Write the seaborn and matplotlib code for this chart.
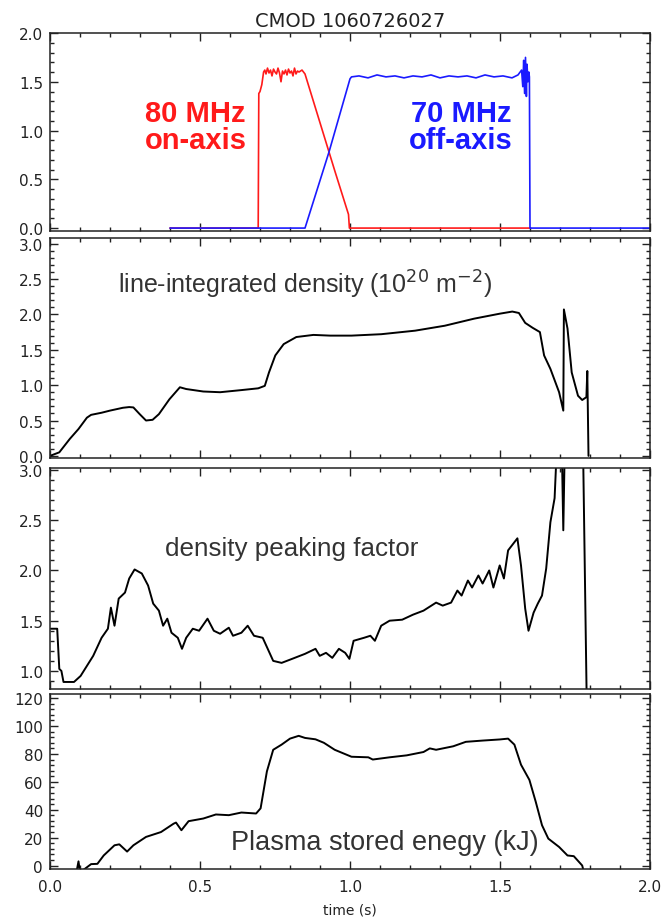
#!/usr/bin/env python3
# -*- coding: utf-8 -*-
"""
CMOD shot 1060726027: ICRF power, line-integrated density,
density peaking factor and plasma stored energy vs time.
"""
import numpy as np
import pandas as pd
import seaborn as sns
import matplotlib.pyplot as plt
from matplotlib.ticker import MultipleLocator

# ============================================================
# DATA
# ============================================================
# 80 MHz on-axis RF power (MW)
t_80 = [0.40, 0.694, 0.696, 0.700, 0.706, 0.712, 0.716, 0.720, 0.725, 0.730,
        0.735, 0.740, 0.745, 0.750, 0.755, 0.760, 0.765, 0.770, 0.775, 0.780,
        0.785, 0.790, 0.795, 0.800, 0.805, 0.810, 0.815, 0.820, 0.825, 0.830,
        0.840, 0.850, 0.900, 0.950, 0.995, 0.998, 1.60]
p_80 = [0.0, 0.0, 1.38, 1.40, 1.47, 1.60, 1.62, 1.58, 1.64, 1.59,
        1.62, 1.56, 1.63, 1.60, 1.58, 1.64, 1.59, 1.50, 1.61, 1.58,
        1.62, 1.57, 1.63, 1.59, 1.61, 1.56, 1.64, 1.58, 1.61, 1.60,
        1.62, 1.58, 1.08, 0.58, 0.14, 0.0, 0.0]

# 70 MHz off-axis RF power (MW)
t_70 = [0.40, 0.850, 0.930, 1.000, 1.005, 1.03, 1.06, 1.09, 1.12, 1.15,
        1.18, 1.21, 1.24, 1.27, 1.30, 1.33, 1.36, 1.39, 1.42, 1.45,
        1.48, 1.51, 1.54, 1.56, 1.572, 1.576, 1.579, 1.582, 1.585, 1.588,
        1.590, 1.593, 1.596, 1.598, 1.600, 2.00]
p_70 = [0.0, 0.0, 0.78, 1.53, 1.55, 1.56, 1.54, 1.57, 1.55, 1.56,
        1.54, 1.56, 1.55, 1.57, 1.54, 1.56, 1.55, 1.56, 1.54, 1.57,
        1.55, 1.56, 1.54, 1.57, 1.62, 1.45, 1.72, 1.38, 1.75, 1.35,
        1.68, 1.50, 1.60, 1.55, 0.0, 0.0]

# line-integrated density (1e20 m^-2)
t_nl = [0.000, 0.031, 0.066, 0.095, 0.123, 0.137, 0.172, 0.200, 0.243, 0.264,
        0.278, 0.299, 0.320, 0.342, 0.363, 0.398, 0.433, 0.454, 0.511, 0.567,
        0.638, 0.694, 0.716, 0.730, 0.751, 0.779, 0.821, 0.878, 0.934, 1.005,
        1.104, 1.217, 1.316, 1.414, 1.499, 1.541, 1.563, 1.584, 1.609, 1.633,
        1.647, 1.668, 1.697, 1.711, 1.713, 1.725, 1.739, 1.760, 1.774, 1.788,
        1.791, 1.795]
nl = [0.00, 0.05, 0.24, 0.38, 0.54, 0.58, 0.61, 0.64, 0.68, 0.69,
      0.685, 0.59, 0.50, 0.51, 0.59, 0.80, 0.97, 0.945, 0.91, 0.90,
      0.93, 0.955, 0.99, 1.18, 1.42, 1.58, 1.68, 1.71, 1.70, 1.70,
      1.72, 1.77, 1.84, 1.94, 2.01, 2.04, 2.02, 1.88, 1.81, 1.75,
      1.42, 1.23, 0.90, 0.64, 2.07, 1.80, 1.18, 0.85, 0.79, 0.83,
      1.20, 0.0]

# density peaking factor
t_pk = [0.003, 0.024, 0.031, 0.038, 0.045, 0.080, 0.102, 0.123, 0.144, 0.172,
        0.193, 0.203, 0.215, 0.229, 0.250, 0.264, 0.282, 0.306, 0.327, 0.344,
        0.363, 0.377, 0.391, 0.405, 0.426, 0.440, 0.454, 0.476, 0.497, 0.525,
        0.546, 0.567, 0.596, 0.610, 0.638, 0.659, 0.680, 0.709, 0.744, 0.772,
        0.807, 0.850, 0.885, 0.899, 0.920, 0.941, 0.963, 0.984, 0.998, 1.012,
        1.047, 1.068, 1.083, 1.104, 1.132, 1.174, 1.210, 1.245, 1.287, 1.309,
        1.337, 1.358, 1.372, 1.393, 1.407, 1.428, 1.442, 1.464, 1.478, 1.499,
        1.513, 1.527, 1.558, 1.570, 1.584, 1.595, 1.612, 1.626, 1.640, 1.654,
        1.668, 1.682, 1.695, 1.705, 1.711, 1.718, 1.775, 1.790]
pk = [1.42, 1.42, 1.02, 1.00, 0.89, 0.89, 0.95, 1.05, 1.15, 1.33,
      1.42, 1.63, 1.45, 1.72, 1.78, 1.92, 2.01, 1.97, 1.85, 1.67,
      1.60, 1.45, 1.52, 1.38, 1.33, 1.22, 1.33, 1.42, 1.40, 1.52,
      1.40, 1.37, 1.43, 1.35, 1.38, 1.45, 1.35, 1.33, 1.10, 1.08,
      1.12, 1.17, 1.22, 1.15, 1.18, 1.13, 1.22, 1.18, 1.12, 1.30,
      1.33, 1.35, 1.30, 1.45, 1.50, 1.51, 1.56, 1.60, 1.68, 1.65,
      1.68, 1.80, 1.75, 1.90, 1.83, 1.95, 1.87, 2.00, 1.83, 2.05,
      1.92, 2.20, 2.32, 2.05, 1.62, 1.40, 1.58, 1.67, 1.75, 2.02,
      2.48, 2.72, 3.60, 3.40, 2.40, 3.60, 3.60, 0.50]

# plasma stored energy (kJ)
t_w = [0.088, 0.095, 0.100, 0.137, 0.158, 0.179, 0.215, 0.231, 0.257, 0.278,
       0.320, 0.370, 0.412, 0.420, 0.438, 0.462, 0.511, 0.553, 0.596, 0.638,
       0.687, 0.702, 0.723, 0.744, 0.772, 0.800, 0.829, 0.850, 0.885, 0.913,
       0.949, 1.005, 1.061, 1.076, 1.132, 1.189, 1.245, 1.266, 1.287, 1.344,
       1.386, 1.442, 1.499, 1.527, 1.548, 1.570, 1.598, 1.619, 1.640, 1.661,
       1.697, 1.725, 1.746, 1.774, 1.780]
w_mhd = [-5.0, 3.0, -5.0, 1.0, 1.2, 7.2, 14.5, 15.2, 10.0, 14.5,
         20.5, 24.0, 30.0, 30.8, 25.3, 31.8, 33.7, 36.6, 36.1, 38.0,
         37.3, 41.0, 67.5, 83.0, 86.7, 91.0, 93.0, 91.5, 90.5, 88.0,
         83.0, 78.0, 77.6, 76.0, 77.6, 79.0, 81.4, 84.0, 83.0, 85.5,
         88.7, 89.6, 90.4, 91.0, 86.7, 72.3, 61.4, 45.8, 28.9, 19.3,
         13.3, 7.2, 6.7, 0.0, -5.0]

shot_title = 'CMOD 1060726027'

# ============================================================
# STYLE
# ============================================================
sns.set_style('white')
plt.rcParams['font.family'] = ['DejaVu Sans']
plt.rcParams['axes.linewidth'] = 1.1
plt.rcParams['axes.edgecolor'] = '#222222'

ink = '#222222'
sans = ['Liberation Sans', 'DejaVu Sans']
label_kw = dict(family=sans, color='#333333', ha='left', va='center')
rf_kw = dict(ha='center', va='center', fontsize=21, fontweight='bold',
             linespacing=0.95, family=sans)

fig = plt.figure(figsize=(6.63, 9.2), dpi=100)
left, width = 50 / 663, 600 / 663


def panel_axes(top_px, bot_px):
    return fig.add_axes([left, 1 - bot_px / 920, width, (bot_px - top_px) / 920])


ax1 = panel_axes(34, 232)
ax2 = panel_axes(239, 459)
ax3 = panel_axes(469, 690)
ax4 = panel_axes(695, 870)

# ============================================================
# PANEL 1: RF power
# ============================================================
df80 = pd.DataFrame({'t': t_80, 'p': p_80})
df70 = pd.DataFrame({'t': t_70, 'p': p_70})
sns.lineplot(data=df80, x='t', y='p', ax=ax1, color='#ff1a1a', lw=1.2,
             sort=False, estimator=None)
sns.lineplot(data=df70, x='t', y='p', ax=ax1, color='#1a1aff', lw=1.2,
             sort=False, estimator=None)
ax1.set_ylim(-0.03, 2.0)
ax1.yaxis.set_major_locator(MultipleLocator(0.5))
ax1.yaxis.set_minor_locator(MultipleLocator(0.1))
ax1.text(0.485, 1.04, '80 MHz\non-axis', color='#ff1a1a', **rf_kw)
ax1.text(1.37, 1.04, '70 MHz\noff-axis', color='#1a1aff', **rf_kw)
ax1.set_title(shot_title, fontsize=14, color=ink, pad=5)

# ============================================================
# PANEL 2: line-integrated density
# ============================================================
sns.lineplot(x=t_nl, y=nl, ax=ax2, color='black', lw=1.4,
             sort=False, estimator=None)
ax2.set_ylim(-0.03, 3.08)
ax2.yaxis.set_major_locator(MultipleLocator(0.5))
ax2.yaxis.set_minor_locator(MultipleLocator(0.1))
ax2.text(0.228, 2.43, r'line-integrated density (10$^{20}$ m$^{-2}$)',
         fontsize=18, **label_kw)

# ============================================================
# PANEL 3: density peaking factor
# ============================================================
sns.lineplot(x=t_pk, y=pk, ax=ax3, color='black', lw=1.4,
             sort=False, estimator=None)
ax3.set_ylim(0.82, 3.02)
ax3.yaxis.set_major_locator(MultipleLocator(0.5))
ax3.yaxis.set_minor_locator(MultipleLocator(0.1))
ax3.text(0.383, 2.22, 'density peaking factor', fontsize=18.7, **label_kw)

# ============================================================
# PANEL 4: stored energy
# ============================================================
sns.lineplot(x=t_w, y=w_mhd, ax=ax4, color='black', lw=1.4,
             sort=False, estimator=None)
ax4.set_ylim(-2.5, 123)
ax4.yaxis.set_major_locator(MultipleLocator(20))
ax4.yaxis.set_minor_locator(MultipleLocator(4))
ax4.text(0.603, 17, 'Plasma stored enegy (kJ)', fontsize=19.5, **label_kw)
ax4.set_xlabel('time (s)', fontsize=10, color=ink, labelpad=6)

# ============================================================
# SHARED AXIS FORMATTING (IDL-like inward ticks on all sides)
# ============================================================
for ax in (ax1, ax2, ax3, ax4):
    ax.set_xlim(0, 2.0)
    ax.xaxis.set_major_locator(MultipleLocator(0.5))
    ax.xaxis.set_minor_locator(MultipleLocator(0.1))
    ax.tick_params(which='both', direction='in', bottom=True, left=True,
                   top=True, right=True, colors=ink, labelsize=11, width=1.0)
    ax.tick_params(which='major', length=6)
    ax.tick_params(which='minor', length=3)
    ax.tick_params(axis='y', pad=5)
    ax.set_ylabel('')
    if ax is not ax4:
        ax.set_xlabel('')
        ax.tick_params(labelbottom=False)
    for s in ax.spines.values():
        s.set_visible(True)
ax4.tick_params(axis='x', pad=7)

fig.savefig('out.png', dpi=100)
